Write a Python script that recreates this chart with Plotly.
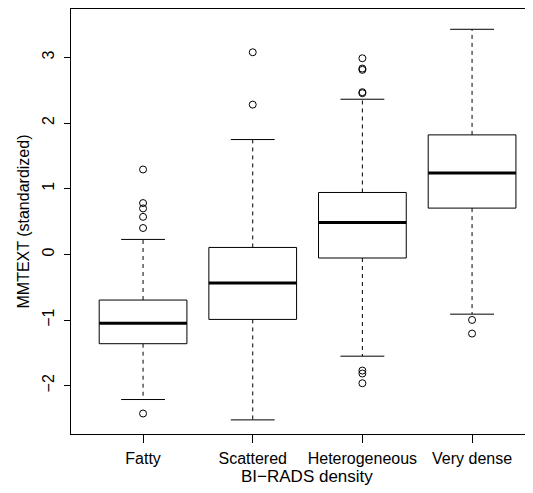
import plotly.graph_objects as go

# ---- data ----
categories = ["Fatty", "Scattered", "Heterogeneous", "Very dense"]
lower_whisker = [-2.21, -2.52, -1.55, -0.91]
q1 = [-1.36, -0.99, -0.055, 0.705]
median = [-1.05, -0.435, 0.487, 1.238]
q3 = [-0.695, 0.106, 0.943, 1.82]
upper_whisker = [0.228, 1.749, 2.363, 3.428]
outliers = [
    [1.293, 0.782, 0.70, 0.572, 0.402, -2.423],
    [3.078, 2.281],
    [2.987, 2.83, 2.81, 2.47, 2.455, -1.769, -1.814, -1.962],
    [-0.998, -1.206],
]
y_tick_vals = [-2, -1, 0, 1, 2, 3]
y_tick_text = ["\u22122", "\u22121", "0", "1", "2", "3"]

# ---- style ----
FONT = "Liberation Sans, Arial, Helvetica, sans-serif"
BOX_HALF = 0.4
STAPLE_HALF = 0.2

pos = list(range(1, len(categories) + 1))

bx, by = [], []
mx, my = [], []
wx, wy = [], []
sx, sy = [], []
ox, oy = [], []
for p, a, b, c, lo, hi, outs in zip(pos, q1, median, q3, lower_whisker, upper_whisker, outliers):
    bx += [p - BOX_HALF, p + BOX_HALF, p + BOX_HALF, p - BOX_HALF, p - BOX_HALF, None]
    by += [a, a, c, c, a, None]
    mx += [p - BOX_HALF, p + BOX_HALF, None]
    my += [b, b, None]
    wx += [p, p, None, p, p, None]
    wy += [c, hi, None, a, lo, None]
    sx += [p - STAPLE_HALF, p + STAPLE_HALF, None, p - STAPLE_HALF, p + STAPLE_HALF, None]
    sy += [hi, hi, None, lo, lo, None]
    for o in outs:
        ox.append(p)
        oy.append(o)

fig = go.Figure()
fig.add_trace(go.Scatter(x=wx, y=wy, mode="lines",
                         line=dict(color="black", width=1, dash="4px,4px"),
                         hoverinfo="skip", showlegend=False))
fig.add_trace(go.Scatter(x=sx, y=sy, mode="lines",
                         line=dict(color="black", width=1),
                         hoverinfo="skip", showlegend=False))
fig.add_trace(go.Scatter(x=bx, y=by, mode="lines", fill="toself", fillcolor="white",
                         line=dict(color="black", width=1),
                         hoverinfo="skip", showlegend=False))
fig.add_trace(go.Scatter(x=mx, y=my, mode="lines",
                         line=dict(color="black", width=3),
                         hoverinfo="skip", showlegend=False))
fig.add_trace(go.Scatter(x=ox, y=oy, mode="markers",
                         marker=dict(symbol="circle-open", size=7, color="black",
                                     line=dict(width=1, color="black")),
                         showlegend=False))

# page has an 8px body margin; plot area spans page x 71..541, y 9..434.5
PLOT_W = 470.0
PLOT_H = 425.5
fig.update_layout(
    width=533, height=493,
    margin=dict(l=63, r=0, t=1, b=493 - 1 - PLOT_H, autoexpand=False),
    paper_bgcolor="white", plot_bgcolor="white",
    font=dict(family=FONT, size=16, color="black"),
    showlegend=False,
)
fig.update_xaxes(
    range=[0.343, 0.343 + PLOT_W / 109.67],
    tickmode="array", tickvals=pos, ticktext=categories,
    showline=True, linecolor="black", linewidth=1, mirror=True,
    ticks="outside", ticklen=8, tickcolor="black", tickwidth=1,
    showgrid=False, zeroline=False, automargin=False,
    ticklabelstandoff=2,
    tickfont=dict(size=16),
)
fig.update_yaxes(
    range=[-2.735, 3.737],
    tickmode="array", tickvals=y_tick_vals, ticktext=y_tick_text,
    tickangle=-90,
    showline=True, linecolor="black", linewidth=1, mirror=False,
    ticks="outside", ticklen=6, tickcolor="black", tickwidth=1,
    showgrid=False, zeroline=False, automargin=False,
    ticklabelstandoff=4,
    tickfont=dict(size=16),
)
fig.add_annotation(text="BI\u2212RADS density", xref="paper", yref="paper",
                   x=(307 - 71) / PLOT_W, y=(434.5 - 477) / PLOT_H,
                   xanchor="center", yanchor="middle", showarrow=False,
                   font=dict(size=17))
fig.add_annotation(text="MMTEXT (standardized)", xref="paper", yref="paper",
                   x=(23 - 71) / PLOT_W, y=0.5, textangle=-90,
                   xanchor="center", yanchor="middle", showarrow=False,
                   font=dict(size=16))

fig.write_html("out.html")
